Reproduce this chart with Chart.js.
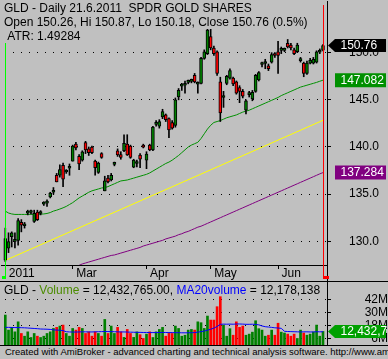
<!DOCTYPE html>
<html><head><meta charset="utf-8">
<script src="https://cdn.jsdelivr.net/npm/chart.js@4"></script>
<style>
html,body{margin:0;padding:0;background:#c0c0c0;width:388px;height:359px;overflow:hidden;}
#wrap{position:relative;width:388px;height:359px;background:#c0c0c0;overflow:hidden;}
canvas{position:absolute;left:0;}
#c1{top:0;width:388px;height:281px;} #c2{top:281px;width:388px;height:64px;}
.ln{position:absolute;background:#000;}
#foot{position:absolute;left:5px;top:346px;font:9.5px "Liberation Sans",Arial,sans-serif;white-space:nowrap;color:#000;line-height:12px;}
</style></head>
<body><div id="wrap">
<canvas id="c1" width="388" height="281"></canvas>
<canvas id="c2" width="388" height="64"></canvas>
<div class="ln" style="left:0;top:281px;width:388px;height:1px"></div>
<div class="ln" style="left:0;top:345px;width:388px;height:1px"></div>
<div id="foot">Created with AmiBroker - advanced charting and technical analysis software. http://www.amibroker.com</div>
</div>
<script>
// ---- data (GLD daily, 28 Jan 2011 .. 21 Jun 2011) ----
const open = [128.0,129.26,130.5,130.0,130.1,132.0,131.65,132.97,133.05,132.1,
133.1,132.95,133.95,134.05,134.7,135.2,137.0,137.0,138.05,137.35,
137.75,138.5,140.3,139.0,138.6,140.46,139.8,140.0,138.5,137.3,
139.3,135.35,136.7,136.5,138.15,139.6,139.2,139.6,140.3,140.1,
137.85,138.25,139.15,140.2,138.6,140.2,139.7,142.4,142.2,143.2,
143.4,143.0,142.6,142.3,145.3,146.45,146.55,146.85,146.95,147.6,
146.65,146.75,149.4,149.9,151.7,150.5,150.1,146.9,145.25,146.75,
147.3,147.3,146.9,146.3,145.9,143.9,145.55,145.1,145.9,147.1,
148.75,148.85,148.6,149.0,149.9,150.1,150.25,150.25,151.0,150.8,
150.3,150.1,149.15,148.9,147.8,148.9,148.9,149.0,150.05,150.26];
const high = [131.4,130.9,131.0,130.9,132.4,132.3,132.0,133.3,133.3,133.3,
133.3,133.25,134.2,134.4,135.2,135.7,137.2,138.1,138.3,137.6,
138.2,140.2,140.5,139.2,139.6,140.6,140.0,140.1,138.6,138.4,
139.4,136.9,137.0,137.2,138.4,139.8,139.5,141.3,141.3,140.2,
138.7,138.6,139.3,140.3,139.5,140.3,142.2,142.8,142.9,144.0,
143.5,143.1,142.8,145.2,146.2,146.75,147.0,147.1,147.2,147.8,
146.9,149.5,150.3,152.5,152.5,150.7,150.2,147.4,145.9,147.6,
148.3,147.4,147.0,146.5,146.1,145.0,145.9,146.0,147.7,148.0,
149.0,149.3,148.8,150.0,150.0,151.2,150.6,150.5,151.4,151.0,
150.5,151.0,149.5,149.0,149.1,149.4,149.5,150.2,150.4,150.87];
const low = [127.85,128.8,129.4,129.3,129.6,131.0,131.4,132.8,132.9,132.0,
132.2,132.8,133.8,133.7,134.6,135.0,136.3,136.8,135.8,137.2,
137.0,138.5,139.7,137.6,138.5,139.3,139.1,139.3,137.0,137.2,
138.8,135.35,136.2,136.4,138.0,139.0,138.7,139.5,139.1,138.8,
137.8,137.9,137.8,139.9,137.7,139.6,139.6,142.2,142.0,143.0,
142.7,141.0,141.9,142.1,145.0,146.0,145.7,146.7,146.8,146.8,
145.7,146.7,149.3,149.8,150.3,149.7,147.6,142.7,144.2,146.6,
147.2,146.5,145.6,144.7,145.2,143.5,145.3,144.9,145.8,147.0,
148.5,148.3,148.1,148.9,149.5,147.8,149.9,150.1,150.5,150.3,
149.8,150.0,149.0,147.45,147.7,148.8,148.8,148.9,149.9,150.18];
const close = [130.3,129.96,130.9,130.1,132.2,131.7,131.75,133.2,133.15,132.97,
132.3,133.05,134.05,134.15,135.1,135.4,136.3,137.6,136.6,137.45,
137.85,140.1,139.9,138.2,139.5,139.7,139.4,139.4,137.8,138.3,
138.9,136.4,136.3,137.0,138.25,139.15,138.9,140.4,139.15,138.9,
138.6,138.35,138.7,139.97,139.25,139.7,142.1,142.5,142.7,143.75,
142.9,141.8,142.0,145.0,146.0,146.55,146.65,146.95,147.05,146.9,
146.75,149.4,150.1,152.4,150.5,149.9,147.8,143.6,145.35,147.5,
148.1,146.7,145.7,145.9,145.4,144.9,145.65,145.8,147.6,147.9,
148.85,148.95,148.3,149.8,149.7,149.7,150.35,150.35,150.6,150.5,
149.9,150.8,149.25,147.8,148.9,149.2,149.3,150.1,150.15,150.76];
const volume = [27.5,13.7,16.2,12.1,21.3,10.6,8.1,12.1,6.9,10.6,
8.1,6.9,8.1,10.6,12.1,15.2,16.2,17.4,18.3,10.6,
8.1,15.2,13.7,16.2,15.2,10.6,12.1,8.1,12.1,10.6,
8.1,23.5,10.6,17.4,10.6,16.2,12.1,7.0,14.3,10.6,
7.0,12.1,9.5,6.0,10.0,12.1,6.9,12.1,14.3,16.2,
8.1,11.0,10.6,17.4,15.2,8.1,9.0,13.7,14.3,13.7,
21.3,20.5,15.2,26.6,22.9,22.9,35.2,44.4,18.3,8.1,
15.0,9.0,21.3,16.2,17.4,9.0,10.0,11.8,22.3,15.0,
13.7,8.1,9.0,13.7,9.0,20.0,11.8,11.0,10.0,8.1,
10.0,6.0,13.7,11.0,9.0,10.0,12.0,18.3,8.1,12.432765];
const volMA20 = [16.2,16.2,16.1,16.0,16.0,15.9,15.8,15.6,15.4,15.2,
15.0,14.7,14.6,14.5,14.3,13.9,13.7,13.6,13.2,12.2,
12.0,11.9,11.9,12.0,12.1,12.1,12.0,12.0,12.1,12.2,
12.3,12.4,12.3,12.3,12.2,12.1,12.0,12.0,11.9,11.8,
11.7,11.6,11.6,11.5,11.5,11.4,11.4,11.4,11.5,11.5,
11.5,11.4,11.4,11.3,11.3,11.2,11.2,11.2,11.3,11.4,
11.8,12.3,12.8,13.6,14.5,15.5,17.0,19.0,19.2,19.1,
19.2,19.1,19.3,19.3,19.2,19.0,19.0,19.1,18.9,18.5,
17.5,16.8,16.5,16.2,15.8,15.6,15.3,12.6,12.4,12.3,
12.2,12.1,12.0,12.1,12.1,12.0,12.0,12.2,12.1,12.178138];
const ma20 = [133.2,133.0,132.9,132.85,132.85,132.85,132.85,132.85,132.86,132.86,
132.87,132.88,132.9,132.95,133.05,133.2,133.3,133.42,133.55,133.7,
133.9,134.1,134.35,134.6,134.8,135.0,135.2,135.35,135.45,135.55,
135.65,135.7,135.8,135.95,136.1,136.25,136.4,136.45,136.5,136.6,
136.7,136.8,136.9,137.0,137.1,137.25,137.45,137.65,137.85,138.05,
138.25,138.4,138.6,138.85,139.1,139.4,139.7,140.0,140.2,140.35,
140.5,140.9,141.4,141.9,142.3,142.6,142.7,142.8,142.95,143.1,
143.2,143.3,143.4,143.55,143.7,143.8,143.9,144.05,144.2,144.35,
144.5,144.65,144.8,144.95,145.1,145.25,145.45,145.6,145.75,145.9,
146.05,146.2,146.35,146.45,146.55,146.65,146.75,146.85,146.97,147.082];
const maLong = [null,null,null,null,null,null,null,null,null,null,
null,null,null,null,null,null,null,null,null,null,
127.1,127.2,127.3,127.45,127.6,127.7,127.8,127.9,128.0,128.1,
128.2,128.3,128.4,128.5,128.55,128.65,128.75,128.85,128.95,129.05,
129.15,129.25,129.35,129.5,129.6,129.7,129.8,129.9,130.0,130.1,
130.25,130.35,130.45,130.55,130.7,130.8,130.95,131.05,131.2,131.35,
131.5,131.6,131.75,131.9,132.05,132.2,132.35,132.5,132.65,132.8,
132.95,133.1,133.25,133.4,133.55,133.7,133.85,134.0,134.15,134.3,
134.45,134.6,134.75,134.9,135.05,135.2,135.35,135.5,135.65,135.8,
135.95,136.1,136.25,136.4,136.55,136.7,136.85,137.0,137.15,137.284];
const trendIdx = [0, 99];
const trendVal = [127.98, 142.83];
const priceTicks = [130, 135, 140, 145, 150];
const volTicks = [6, 18, 30, 42];
const monthIdx = [0, 21, 44, 64, 85];
const monthLabels = ['2011', 'Mar', 'Apr', 'May', 'Jun'];
const titleLines = ['GLD - Daily 21.6.2011  SPDR GOLD SHARES',
  'Open 150.26, Hi 150.87, Lo 150.18, Close 150.76 (0.5%)',
  ' ATR: 1.49284'];
const volTitle = [['GLD - ', '#000'], ['Volume', '#4c8c00'], [' = 12,432,765.00, ', '#000'], ['MA20volume', '#0000ff'], [' = 12,178,138', '#000']];

// ---- styling ----
const FONT = '"Liberation Sans", Arial, sans-serif';
const GREEN = '#008000', RED = '#ff0000';
const N = close.length;
const idx = close.map((_, i) => i);
const up = idx.map(i => close[i] >= open[i]);
const XMIN = -1.34, XMAX = 100.25;

function noPad(s) { s.paddingTop = 0; s.paddingBottom = 0; s.paddingLeft = 0; s.paddingRight = 0; }

function xScale(display) {
  return {
    type: 'linear', min: XMIN, max: XMAX, offset: false, display: display,
    afterBuildTicks: s => { s.ticks = monthIdx.map(v => ({value: v})); },
    afterFit: s => { s.height = display ? 16 : 0; noPad(s); },
    ticks: { autoSkip: false, maxRotation: 0, align: 'start', labelOffset: 3.5, padding: -3,
      color: '#000', font: {family: FONT, size: 12},
      callback: (v) => { const k = monthIdx.indexOf(v); return k >= 0 ? monthLabels[k] : ''; } },
    grid: { offset: false, drawOnChartArea: false, drawTicks: true, tickLength: 4, color: '#000', tickColor: '#000' },
    border: { display: true, color: '#000', width: 1 }
  };
}

function labelBox(ctx, yp, text, color, arrow) {
  ctx.save();
  ctx.fillStyle = color;
  ctx.beginPath();
  if (arrow) {
    ctx.moveTo(328, yp); ctx.lineTo(335, yp - 6.5); ctx.lineTo(386, yp - 6.5);
    ctx.lineTo(386, yp + 6.5); ctx.lineTo(335, yp + 6.5); ctx.closePath();
  } else {
    ctx.rect(335, yp - 7, 51, 14);
  }
  ctx.fill();
  ctx.fillStyle = '#fff';
  ctx.font = '12px ' + FONT;
  ctx.textBaseline = 'middle';
  ctx.textAlign = 'left';
  ctx.fillText(text, 340.5, yp + 0.5);
  ctx.restore();
}

const pricePlugin = {
  id: 'pricePlugin',
  afterDatasetsDraw(chart) {
    const {ctx, scales: {x, y}, chartArea: ca} = chart;
    ctx.save();
    ctx.fillStyle = '#000';
    ctx.fillRect(327, ca.bottom, 1, 281 - ca.bottom);
    const gx = Math.round(x.getPixelForValue(0));
    const rx = Math.round(x.getPixelForValue(N - 1));
    ctx.fillStyle = '#00ff00';
    ctx.fillRect(gx, ca.top, 1, 279 - ca.top);
    ctx.fillRect(gx - 3, 276, 4, 3);
    ctx.fillStyle = '#ff0000';
    ctx.fillRect(rx, 5, 1, 274);
    ctx.fillRect(rx, 276, 6, 3);
    ctx.restore();
  },
  afterDraw(chart) {
    const {ctx, scales: {y}} = chart;
    ctx.save();
    ctx.font = '12px ' + FONT;
    ctx.textBaseline = 'alphabetic';
    titleLines.forEach((t, k) => {
      const w = ctx.measureText(t).width;
      ctx.fillStyle = '#c0c0c0';
      ctx.fillRect(1, 1 + 14 * k, w + 4, 14);
      ctx.fillStyle = '#000';
      ctx.fillText(t, 4, 12 + 14 * k);
    });
    ctx.restore();
    labelBox(ctx, y.getPixelForValue(close[N - 1]), close[N - 1].toFixed(2), '#000', true);
    labelBox(ctx, y.getPixelForValue(ma20[N - 1]), ma20[N - 1].toFixed(3), '#009000', false);
    labelBox(ctx, y.getPixelForValue(maLong[N - 1]), maLong[N - 1].toFixed(3), '#800080', false);
  }
};

new Chart(document.getElementById('c1'), {
  type: 'bar',
  data: { datasets: [
    { type: 'line', data: idx.map(i => ({x: i, y: maLong[i]})), borderColor: '#800080', borderWidth: 1, pointRadius: 0, spanGaps: false, order: 4 },
    { type: 'line', data: trendIdx.map((v, k) => ({x: v, y: trendVal[k]})), borderColor: '#ffff00', borderWidth: 1, pointRadius: 0, order: 4 },
    { type: 'line', data: idx.map(i => ({x: i, y: ma20[i]})), borderColor: '#009000', borderWidth: 1, pointRadius: 0, order: 4 },
    { data: idx.map(i => ({x: i, y: [low[i], high[i]]})), backgroundColor: '#000', barThickness: 1, grouped: false, order: 2, borderWidth: 0 },
    { data: idx.map(i => ({x: i, y: [Math.min(open[i], close[i]), Math.max(open[i], close[i])]})),
      backgroundColor: idx.map(i => up[i] ? GREEN : RED), borderColor: '#000', borderWidth: 1,
      borderSkipped: false, barThickness: 3, grouped: false, minBarLength: 2, order: 1 }
  ]},
  options: {
    responsive: false, animation: false, events: [],
    layout: { padding: { left: 1, top: 1, right: 0, bottom: 0 } },
    plugins: { legend: {display: false}, tooltip: {enabled: false} },
    scales: {
      x: xScale(true),
      y: {
        type: 'linear', position: 'right', min: 127.487, max: 155.48, beginAtZero: false,
        afterBuildTicks: s => { s.ticks = priceTicks.map(v => ({value: v})); },
        afterFit: s => { s.width = 61; noPad(s); },
        ticks: { autoSkip: false, padding: 18, color: '#000', font: {family: FONT, size: 12}, callback: v => Number(v).toFixed(1) },
        grid: { color: '#000', lineWidth: 1, tickLength: 4, tickColor: '#000', tickBorderDash: [] },
        border: { display: true, color: '#000', width: 1, dash: [1, 7], dashOffset: 4 }
      }
    }
  },
  plugins: [pricePlugin]
});

const volPlugin = {
  id: 'volPlugin',
  afterDraw(chart) {
    const {ctx, scales: {y}} = chart;
    ctx.save();
    ctx.font = '12px ' + FONT;
    ctx.textBaseline = 'alphabetic';
    let xx = 4;
    volTitle.forEach(([t, c]) => { ctx.fillStyle = c; ctx.fillText(t, xx, 12.5); xx += ctx.measureText(t).width; });
    ctx.restore();
    const v = volume[N - 1];
    labelBox(ctx, y.getPixelForValue(v), Math.round(v * 1e6).toLocaleString('en-US'), '#00a000', true);
  }
};

new Chart(document.getElementById('c2'), {
  type: 'bar',
  data: { datasets: [
    { type: 'line', data: idx.map(i => ({x: i, y: volMA20[i]})), borderColor: '#0000ff', borderWidth: 1, pointRadius: 0, order: 1 },
    { data: idx.map(i => ({x: i, y: volume[i]})), backgroundColor: idx.map(i => up[i] ? GREEN : RED),
      barThickness: 2, grouped: false, borderWidth: 0, order: 2 }
  ]},
  options: {
    responsive: false, animation: false, events: [],
    layout: { padding: { left: 1, top: 0, right: 0, bottom: 0 } },
    plugins: { legend: {display: false}, tooltip: {enabled: false} },
    scales: {
      x: xScale(false),
      y: {
        type: 'linear', position: 'right', min: 0, max: 58.8, beginAtZero: true,
        afterBuildTicks: s => { s.ticks = volTicks.map(v => ({value: v})); },
        afterFit: s => { s.width = 61; noPad(s); },
        ticks: { autoSkip: false, padding: 31, crossAlign: 'far', color: '#000', font: {family: FONT, size: 12}, callback: v => v + 'M' },
        grid: { color: '#000', lineWidth: 1, tickLength: 4, tickColor: '#000', tickBorderDash: [] },
        border: { display: true, color: '#000', width: 1, dash: [1, 7], dashOffset: 4 }
      }
    }
  },
  plugins: [volPlugin]
});
</script></body></html>
